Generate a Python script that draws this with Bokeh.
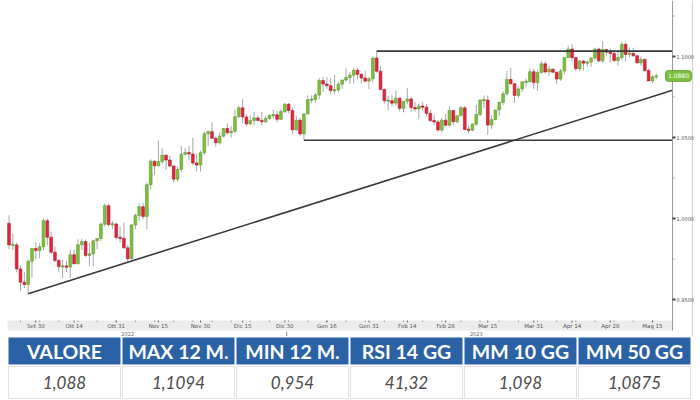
import pandas as pd
from bokeh.plotting import figure
from bokeh.models import Range1d
from bokeh.layouts import column
from bokeh.embed import file_html
from bokeh.resources import INLINE
from bokeh.core.properties import value

# ---------------- data (EUR/USD daily candles) ----------------
dates = [d.strftime("%Y-%m-%d") for d in pd.bdate_range("2022-09-21", "2023-05-16")]

opens = [
    0.9970, 0.9837, 0.9837, 0.9689, 0.9607, 0.9593, 0.9736, 0.9815,
    0.9802, 0.9826, 0.9986, 0.9885, 0.9792, 0.9741, 0.9703, 0.9706, 0.9701, 0.9777, 0.9721, 0.9838, 0.9858, 0.9772, 0.9782, 0.9862, 0.9876, 0.9965, 1.0079, 0.9963, 0.9966,
    0.9883, 0.9878, 0.9819, 0.9751, 0.9960, 1.0019, 1.0073, 1.0013, 1.0209, 1.0353, 1.0325, 1.0351, 1.0391, 1.0361, 1.0324, 1.0243, 1.0303, 1.0396, 1.0407, 1.0398, 1.0343, 1.0330,
    1.0406, 1.0523, 1.0536, 1.0495, 1.0467, 1.0508, 1.0555, 1.0530, 1.0538, 1.0628, 1.0683, 1.0627, 1.0584, 1.0605, 1.0621, 1.0605, 1.0597, 1.0617, 1.0636, 1.0640, 1.0612, 1.0660,
    1.0705, 1.0667, 1.0548, 1.0606, 1.0522, 1.0645, 1.0733, 1.0734, 1.0762, 1.0852, 1.0830, 1.0820, 1.0790, 1.0794, 1.0829, 1.0855, 1.0870, 1.0885, 1.0915, 1.0890, 1.0867, 1.0848,
    1.0862, 1.0990, 1.0909, 1.0796, 1.0727, 1.0727, 1.0712, 1.0743, 1.0680, 1.0723, 1.0738, 1.0685, 1.0676, 1.0694, 1.0687, 1.0649, 1.0605, 1.0596, 1.0546, 1.0607,
    1.0576, 1.0667, 1.0597, 1.0634, 1.0683, 1.0550, 1.0545, 1.0582, 1.0642, 1.0731, 1.0731, 1.0577, 1.0610, 1.0670, 1.0717, 1.0770, 1.0858, 1.0832, 1.0760, 1.0800, 1.0844, 1.0844, 1.0906,
    1.0839, 1.0901, 1.0955, 1.0905, 1.0922, 1.0903, 1.0861, 1.0911, 1.0993, 1.1046, 1.0993, 1.0925, 1.0972, 1.0959, 1.0966, 1.0990, 1.1046, 1.0973, 1.1043, 1.1027,
    1.1019, 1.0976, 1.0994, 1.1075, 1.1013, 1.1019, 1.1005, 1.0961, 1.0982, 1.0914, 1.0849, 1.0874,
]
highs = [
    1.0020, 0.9907, 0.9852, 0.9710, 0.9671, 0.9748, 0.9815, 0.9854,
    0.9851, 0.9999, 0.9999, 0.9919, 0.9827, 0.9749, 0.9746, 0.9738, 0.9809, 0.9809, 0.9872, 0.9876, 0.9870, 0.9847, 0.9870, 0.9875, 0.9976, 1.0094, 1.0088, 0.9986, 0.9977,
    0.9952, 0.9976, 0.9839, 0.9965, 1.0032, 1.0093, 1.0096, 1.0222, 1.0365, 1.0360, 1.0481, 1.0434, 1.0395, 1.0386, 1.0329, 1.0321, 1.0448, 1.0435, 1.0450, 1.0497, 1.0400, 1.0419,
    1.0535, 1.0545, 1.0594, 1.0506, 1.0533, 1.0559, 1.0587, 1.0570, 1.0673, 1.0694, 1.0736, 1.0642, 1.0636, 1.0658, 1.0636, 1.0657, 1.0634, 1.0643, 1.0672, 1.0664, 1.0675, 1.0714,
    1.0713, 1.0684, 1.0635, 1.0623, 1.0651, 1.0760, 1.0760, 1.0776, 1.0868, 1.0875, 1.0874, 1.0867, 1.0887, 1.0843, 1.0858, 1.0927, 1.0904, 1.0928, 1.0929, 1.0900, 1.0914, 1.0873,
    1.0999, 1.1033, 1.0941, 1.0804, 1.0757, 1.0760, 1.0790, 1.0746, 1.0725, 1.0804, 1.0750, 1.0720, 1.0710, 1.0720, 1.0705, 1.0670, 1.0640, 1.0608, 1.0621, 1.0645,
    1.0691, 1.0669, 1.0637, 1.0694, 1.0694, 1.0575, 1.0588, 1.0701, 1.0736, 1.0760, 1.0759, 1.0637, 1.0670, 1.0721, 1.0787, 1.0912, 1.0930, 1.0835, 1.0815, 1.0845, 1.0865, 1.0926, 1.0925,
    1.0920, 1.0973, 1.0970, 1.0942, 1.0926, 1.0905, 1.0923, 1.0998, 1.1068, 1.1075, 1.0998, 1.0977, 1.0978, 1.0973, 1.0994, 1.1054, 1.1055, 1.1095, 1.1048, 1.1049,
    1.1026, 1.1032, 1.1091, 1.1092, 1.1055, 1.1054, 1.1006, 1.1000, 1.0990, 1.0925, 1.0887, 1.0895,
]
lows = [
    0.9812, 0.9807, 0.9667, 0.9553, 0.9571, 0.9536, 0.9634, 0.9748,
    0.9755, 0.9804, 0.9835, 0.9782, 0.9730, 0.9670, 0.9633, 0.9669, 0.9632, 0.9716, 0.9716, 0.9805, 0.9760, 0.9705, 0.9705, 0.9811, 0.9859, 0.9950, 0.9951, 0.9935, 0.9871,
    0.9851, 0.9814, 0.9730, 0.9747, 0.9935, 0.9986, 0.9996, 0.9935, 1.0180, 1.0270, 1.0324, 1.0334, 1.0300, 1.0315, 1.0223, 1.0226, 1.0286, 1.0390, 1.0360, 1.0330, 1.0290, 1.0290,
    1.0393, 1.0448, 1.0490, 1.0443, 1.0456, 1.0501, 1.0516, 1.0500, 1.0526, 1.0620, 1.0591, 1.0568, 1.0576, 1.0575, 1.0600, 1.0575, 1.0588, 1.0610, 1.0620, 1.0595, 1.0610, 1.0650,
    1.0650, 1.0519, 1.0540, 1.0511, 1.0483, 1.0643, 1.0712, 1.0712, 1.0736, 1.0780, 1.0800, 1.0766, 1.0765, 1.0777, 1.0800, 1.0846, 1.0832, 1.0835, 1.0860, 1.0835, 1.0838, 1.0800,
    1.0840, 1.0900, 1.0796, 1.0708, 1.0670, 1.0690, 1.0700, 1.0660, 1.0655, 1.0705, 1.0660, 1.0660, 1.0612, 1.0665, 1.0630, 1.0596, 1.0577, 1.0536, 1.0533, 1.0570,
    1.0566, 1.0577, 1.0587, 1.0633, 1.0548, 1.0524, 1.0540, 1.0572, 1.0632, 1.0680, 1.0516, 1.0551, 1.0610, 1.0630, 1.0700, 1.0760, 1.0827, 1.0713, 1.0745, 1.0780, 1.0810, 1.0840, 1.0800,
    1.0788, 1.0895, 1.0893, 1.0880, 1.0900, 1.0831, 1.0850, 1.0890, 1.0990, 1.0970, 1.0910, 1.0910, 1.0915, 1.0940, 1.0936, 1.0976, 1.0965, 1.0960, 1.1005, 1.0962,
    1.0966, 1.0943, 1.0979, 1.0967, 1.0995, 1.0998, 1.0957, 1.0943, 1.0906, 1.0849, 1.0836, 1.0860,
]
closes = [
    0.9837, 0.9837, 0.9689, 0.9607, 0.9593, 0.9736, 0.9815, 0.9802,
    0.9826, 0.9986, 0.9885, 0.9792, 0.9741, 0.9703, 0.9706, 0.9701, 0.9777, 0.9721, 0.9838, 0.9858, 0.9772, 0.9782, 0.9862, 0.9876, 0.9965, 1.0079, 0.9963, 0.9966, 0.9883,
    0.9878, 0.9819, 0.9751, 0.9960, 1.0019, 1.0073, 1.0013, 1.0209, 1.0353, 1.0325, 1.0351, 1.0391, 1.0361, 1.0324, 1.0243, 1.0303, 1.0396, 1.0407, 1.0398, 1.0343, 1.0330, 1.0406,
    1.0523, 1.0536, 1.0495, 1.0467, 1.0508, 1.0555, 1.0530, 1.0538, 1.0628, 1.0683, 1.0627, 1.0584, 1.0605, 1.0621, 1.0605, 1.0597, 1.0617, 1.0636, 1.0640, 1.0612, 1.0660, 1.0705,
    1.0667, 1.0548, 1.0606, 1.0522, 1.0645, 1.0733, 1.0734, 1.0762, 1.0852, 1.0830, 1.0820, 1.0790, 1.0794, 1.0829, 1.0855, 1.0870, 1.0885, 1.0915, 1.0890, 1.0867, 1.0848, 1.0862,
    1.0990, 1.0909, 1.0796, 1.0727, 1.0727, 1.0712, 1.0743, 1.0680, 1.0723, 1.0738, 1.0685, 1.0676, 1.0694, 1.0687, 1.0649, 1.0605, 1.0596, 1.0546, 1.0607, 1.0576,
    1.0667, 1.0597, 1.0634, 1.0683, 1.0550, 1.0545, 1.0582, 1.0642, 1.0731, 1.0731, 1.0577, 1.0610, 1.0670, 1.0717, 1.0770, 1.0858, 1.0832, 1.0760, 1.0800, 1.0844, 1.0844, 1.0906, 1.0839,
    1.0901, 1.0955, 1.0905, 1.0922, 1.0903, 1.0861, 1.0911, 1.0993, 1.1046, 1.0993, 1.0925, 1.0972, 1.0959, 1.0966, 1.0990, 1.1046, 1.0973, 1.1043, 1.1027, 1.1019,
    1.0976, 1.0994, 1.1075, 1.1013, 1.1019, 1.1005, 1.0961, 1.0982, 1.0914, 1.0849, 1.0874, 1.0880,
]

tick_dates = ["2022-09-30", "2022-10-14", "2022-10-31", "2022-11-15", "2022-11-30", "2022-12-15",
              "2022-12-30", "2023-01-16", "2023-01-31", "2023-02-14", "2023-02-28", "2023-03-15",
              "2023-03-31", "2023-04-14", "2023-04-28", "2023-05-15"]
tick_labels = ["Set 30", "Ott 14", "Ott 31", "Nov 15", "Nov 30", "Dic 15", "Dic 30", "Gen 16",
               "Gen 31", "Feb 14", "Feb 28", "Mar 15", "Mar 31", "Apr 14", "Apr 28", "Mag 15"]
year_dates = ["2022-11-03", "2023-03-10"]
year_labels = ["2022", "2023"]

y_ticks = [0.95, 1.00, 1.05, 1.10]
y_minor = [0.975, 1.025, 1.075, 1.125]

# drawn levels: resistance, support, trend line
res_start, res_level = "2023-02-02", 1.1033
sup_start, sup_level = "2023-01-06", 1.0483
trend_dates = ["2022-09-28", "2022-11-03"]
trend_levels = [0.9536, 0.9730]

headers = ["VALORE", "MAX 12 M.", "MIN 12 M.", "RSI 14 GG", "MM 10 GG", "MM 50 GG"]
stats = ["1,088", "1,1094", "0,954", "41,32", "1,098", "1,0875"]

# ---------------- styling / geometry ----------------
GREEN, GREEN_EDGE = "#7dbf3f", "#5e9c2c"
RED, RED_EDGE = "#e2263d", "#b11a2c"
WICK = "#a8a8a8"
LINE = "#383838"
BLUE = "#2b62a6"
FONT = "DejaVu Sans"

W, H = 700, 336            # chart canvas (frame covers it all)
PX_PER_IDX = 3.83          # horizontal pixels per trading day
PX_PER_UNIT = 1620.0       # vertical pixels per 1.0 of price
X0 = -8.5 / PX_PER_IDX     # index at left edge of canvas
X_AXIS = X0 + 672 / PX_PER_IDX   # price axis column
X_MAX = X0 + W / PX_PER_IDX
Y_TOP = 1.1 + 56 / PX_PER_UNIT   # canvas top
Y_BOT = Y_TOP - H / PX_PER_UNIT


def yc(py):
    """price value at a canvas pixel row (for non-data decorations)"""
    return Y_TOP - py / PX_PER_UNIT


def xc(px):
    """index value at a canvas pixel column (for non-data decorations)"""
    return X0 + px / PX_PER_IDX


def dx(px):
    return px / PX_PER_IDX


n = min(len(dates), len(opens), len(highs), len(lows), len(closes))
pos = {d: i for i, d in enumerate(dates[:n])}
xs = list(range(n))

p = figure(width=W, height=H, x_range=Range1d(X0, X_MAX), y_range=Range1d(Y_BOT, Y_TOP),
           output_backend="svg", toolbar_location=None, x_axis_location=None, y_axis_location=None,
           min_border=0, outline_line_color=None, background_fill_color="white", border_fill_color="white")
p.grid.visible = False

# candles
hi = [max(h, o, c) for h, o, c in zip(highs[:n], opens[:n], closes[:n])]
lo = [min(l, o, c) for l, o, c in zip(lows[:n], opens[:n], closes[:n])]
tops, bots, fills, edges = [], [], [], []
for o, c in zip(opens[:n], closes[:n]):
    t, b = max(o, c), min(o, c)
    if t - b < 0.0008:
        m = (t + b) / 2
        t, b = m + 0.0004, m - 0.0004
    tops.append(t)
    bots.append(b)
    up = c >= o
    fills.append(GREEN if up else RED)
    edges.append(GREEN_EDGE if up else RED_EDGE)

p.segment(x0=xs, y0=lo, x1=xs, y1=hi, line_color=WICK, line_width=1)
p.vbar(x=xs, width=0.72, top=tops, bottom=bots, fill_color=fills, line_color=edges, line_width=0.6)

# resistance / support lines and trend line
p.segment(x0=[pos[res_start]], y0=[res_level], x1=[X_AXIS], y1=[res_level], line_color=LINE, line_width=1.6)
p.segment(x0=[pos[sup_start]], y0=[sup_level], x1=[X_AXIS], y1=[sup_level], line_color=LINE, line_width=1.6)
tx0, tx1 = pos[trend_dates[0]], pos[trend_dates[1]]
slope = (trend_levels[1] - trend_levels[0]) / (tx1 - tx0)
p.segment(x0=[tx0], y0=[trend_levels[0]], x1=[X_AXIS], y1=[trend_levels[0] + slope * (X_AXIS - tx0)],
          line_color=LINE, line_width=1.6)

# ---- time axis (band with labels) ----
band_top, band_bot = yc(320), yc(330)
p.quad(left=[xc(7)], right=[X_AXIS], top=[band_top], bottom=[band_bot], fill_color="#ececec", line_color=None)
xt = [pos[d] for d in tick_dates]
mondays = [i for i, d in enumerate(dates[:n]) if pd.Timestamp(d).weekday() == 0]
p.segment(x0=mondays, y0=[band_top] * len(mondays), x1=mondays, y1=[yc(321.5)] * len(mondays),
          line_color="#9a9a9a", line_width=1)
p.segment(x0=xt, y0=[band_top] * len(xt), x1=xt, y1=[yc(322)] * len(xt), line_color="#666666", line_width=1)
p.text(x=xt, y=[yc(325.5)] * len(xt), text=tick_labels, text_font=value(FONT), text_font_size="5.5px",
       text_color="#555555", text_align="center", text_baseline="middle")
yx = [pos[d] for d in year_dates]
p.text(x=yx, y=[yc(333)] * len(yx), text=year_labels, text_font=value(FONT), text_font_size="5px",
       text_color="#666666", text_align="center", text_baseline="middle")
p.segment(x0=[pos["2022-12-30"] + 0.5], y0=[yc(331)], x1=[pos["2022-12-30"] + 0.5], y1=[yc(336)],
          line_color="#888888", line_width=1)

# ---- price axis (right) ----
p.segment(x0=[X_AXIS], y0=[Y_TOP], x1=[X_AXIS], y1=[band_bot], line_color="#9a9a9a", line_width=1)
p.segment(x0=[xc(692)], y0=[Y_TOP], x1=[xc(692)], y1=[Y_BOT], line_color="#d2d2d2", line_width=1)
p.segment(x0=[X_AXIS] * len(y_ticks), y0=y_ticks, x1=[X_AXIS + dx(3)] * len(y_ticks), y1=y_ticks,
          line_color="#444444", line_width=2)
p.segment(x0=[X_AXIS] * len(y_minor), y0=y_minor, x1=[X_AXIS + dx(2)] * len(y_minor), y1=y_minor,
          line_color="#999999", line_width=1)
p.text(x=[xc(676)] * len(y_ticks), y=y_ticks, text=[f"{v:.4f}" for v in y_ticks],
       text_font=value(FONT), text_font_size="5px", text_color="#4a4a4a",
       text_align="left", text_baseline="middle")

# last price tag
last = closes[n - 1]
tag_l, tag_r = xc(665), xc(691)
tag = p.quad(left=[tag_l], right=[tag_r], top=[last + 5.5 / PX_PER_UNIT],
             bottom=[last - 5.5 / PX_PER_UNIT], fill_color=GREEN, line_color=GREEN_EDGE, line_width=0.8)
try:
    tag.glyph.border_radius = 3
except Exception:
    pass
p.text(x=[(tag_l + tag_r) / 2], y=[last], text=[f"{last:.4f}"], text_font=value(FONT),
       text_font_size="6px", text_color="white", text_align="center", text_baseline="middle")

# ---------------- table ----------------
TH = 64
t = figure(width=W, height=TH, x_range=Range1d(0, W), y_range=Range1d(TH, 0),
           output_backend="svg", toolbar_location=None, x_axis_location=None, y_axis_location=None,
           min_border=0, outline_line_color=None, background_fill_color="white", border_fill_color="white")
t.grid.visible = False
CELL, CW, CX0 = 114, 112, 8
lefts = [CX0 + i * CELL for i in range(len(headers))]
rights = [l + CW for l in lefts]
centers = [l + CW / 2 for l in lefts]
t.quad(left=lefts, right=rights, top=[1] * len(lefts), bottom=[28] * len(lefts), fill_color=BLUE, line_color=None)
t.quad(left=lefts, right=rights, top=[30] * len(lefts), bottom=[62] * len(lefts), fill_color="white",
       line_color="#e0e0e0", line_width=1)
t.text(x=centers, y=[15] * len(centers), text=headers, text_font=value("Lato"), text_font_style="bold",
       text_font_size="19.5px", text_color="white", text_align="center", text_baseline="middle")
t.text(x=centers, y=[46] * len(centers), text=stats, text_font=value("Lato"), text_font_style="italic",
       text_font_size="17px", text_color="#4a4a4a", text_align="center", text_baseline="middle")

layout = column(p, t, spacing=0)
open("out.html", "w").write(file_html(layout, INLINE))
